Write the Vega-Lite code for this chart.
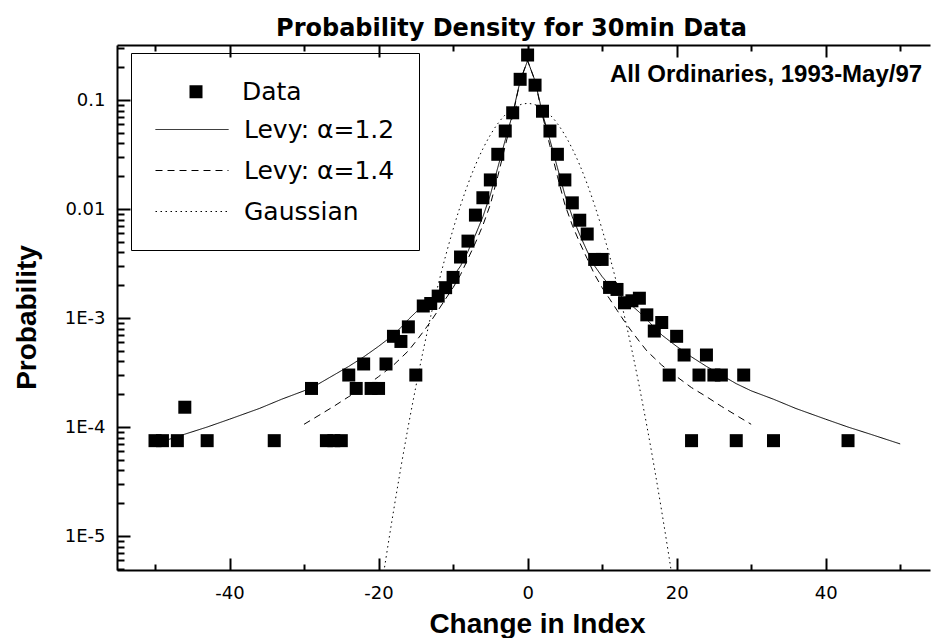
{
  "$schema": "https://vega.github.io/schema/vega-lite/v6.json",
  "width": 813,
  "height": 525,
  "autosize": {"type": "none"},
  "padding": {"left": 117, "top": 45, "right": 2, "bottom": 68},
  "background": "white",
  "view": {"stroke": null},
  "config": {"font": "DejaVu Sans"},
  "title": {
    "text": "Probability Density for 30min Data",
    "font": "DejaVu Sans",
    "fontSize": 24,
    "fontWeight": "bold",
    "color": "black",
    "anchor": "middle",
    "frame": "group",
    "offset": 12,
    "baseline": "alphabetic",
    "dx": -12,
    "dy": 28
  },
  "datasets": {
    "pts": [
      {"x": -50, "p": 7.5e-5}, {"x": -49, "p": 7.5e-5}, {"x": -47, "p": 7.5e-5}, {"x": -46, "p": 1.52e-4},
      {"x": -43, "p": 7.5e-5}, {"x": -34, "p": 7.5e-5}, {"x": -29, "p": 2.26e-4}, {"x": -27, "p": 7.5e-5},
      {"x": -26, "p": 7.5e-5}, {"x": -25, "p": 7.5e-5}, {"x": -24, "p": 3.0e-4}, {"x": -23, "p": 2.26e-4},
      {"x": -22, "p": 3.79e-4}, {"x": -21, "p": 2.26e-4}, {"x": -20, "p": 2.26e-4}, {"x": -19, "p": 3.79e-4},
      {"x": -18, "p": 6.8e-4}, {"x": -17, "p": 6.1e-4}, {"x": -16, "p": 8.3e-4}, {"x": -15, "p": 3.0e-4},
      {"x": -14, "p": 1.29e-3}, {"x": -13, "p": 1.36e-3}, {"x": -12, "p": 1.59e-3}, {"x": -11, "p": 1.9e-3},
      {"x": -10, "p": 2.36e-3}, {"x": -9, "p": 3.63e-3}, {"x": -8, "p": 5.08e-3}, {"x": -7, "p": 8.8e-3},
      {"x": -6, "p": 1.27e-2}, {"x": -5, "p": 1.85e-2}, {"x": -4, "p": 3.18e-2}, {"x": -3, "p": 5.2e-2},
      {"x": -2, "p": 7.64e-2}, {"x": -1, "p": 0.155}, {"x": 0, "p": 0.259}, {"x": 1, "p": 0.137},
      {"x": 2, "p": 0.079}, {"x": 3, "p": 0.052}, {"x": 4, "p": 0.0318}, {"x": 5, "p": 0.0185},
      {"x": 6, "p": 0.0114}, {"x": 7, "p": 0.0079}, {"x": 8, "p": 0.0059}, {"x": 9, "p": 0.00345},
      {"x": 10, "p": 0.00345}, {"x": 11, "p": 0.00191}, {"x": 12, "p": 0.00183}, {"x": 13, "p": 0.00138},
      {"x": 14, "p": 0.00144}, {"x": 15, "p": 0.00152}, {"x": 16, "p": 0.00107}, {"x": 17, "p": 0.00076},
      {"x": 18, "p": 0.00091}, {"x": 19, "p": 0.0003}, {"x": 20, "p": 0.00068}, {"x": 21, "p": 0.000458},
      {"x": 22, "p": 7.5e-5}, {"x": 23, "p": 0.0003}, {"x": 24, "p": 0.000458}, {"x": 25, "p": 0.0003},
      {"x": 26, "p": 0.0003}, {"x": 28, "p": 7.5e-5}, {"x": 29, "p": 0.0003}, {"x": 33, "p": 7.5e-5},
      {"x": 43, "p": 7.5e-5}
    ],
    "levy12": [
      {"series": "Levy: α=1.2", "x": -50, "p": 7.0e-5}, {"series": "Levy: α=1.2", "x": -46, "p": 8.6e-5},
      {"series": "Levy: α=1.2", "x": -43, "p": 1.0e-4}, {"series": "Levy: α=1.2", "x": -40, "p": 1.18e-4},
      {"series": "Levy: α=1.2", "x": -36, "p": 1.48e-4}, {"series": "Levy: α=1.2", "x": -33, "p": 1.8e-4},
      {"series": "Levy: α=1.2", "x": -30, "p": 2.15e-4}, {"series": "Levy: α=1.2", "x": -28, "p": 2.5e-4},
      {"series": "Levy: α=1.2", "x": -26, "p": 3.0e-4}, {"series": "Levy: α=1.2", "x": -24, "p": 3.6e-4},
      {"series": "Levy: α=1.2", "x": -22, "p": 4.4e-4}, {"series": "Levy: α=1.2", "x": -20, "p": 5.5e-4},
      {"series": "Levy: α=1.2", "x": -18, "p": 7.0e-4}, {"series": "Levy: α=1.2", "x": -17, "p": 8.2e-4},
      {"series": "Levy: α=1.2", "x": -16, "p": 9.7e-4}, {"series": "Levy: α=1.2", "x": -15, "p": 1.13e-3},
      {"series": "Levy: α=1.2", "x": -14, "p": 1.3e-3}, {"series": "Levy: α=1.2", "x": -13, "p": 1.49e-3},
      {"series": "Levy: α=1.2", "x": -12, "p": 1.72e-3}, {"series": "Levy: α=1.2", "x": -11, "p": 2.0e-3},
      {"series": "Levy: α=1.2", "x": -10, "p": 2.4e-3}, {"series": "Levy: α=1.2", "x": -9, "p": 3.0e-3},
      {"series": "Levy: α=1.2", "x": -8, "p": 4.1e-3}, {"series": "Levy: α=1.2", "x": -7, "p": 5.8e-3},
      {"series": "Levy: α=1.2", "x": -6, "p": 8.5e-3}, {"series": "Levy: α=1.2", "x": -5, "p": 0.0135},
      {"series": "Levy: α=1.2", "x": -4, "p": 0.024}, {"series": "Levy: α=1.2", "x": -3, "p": 0.043},
      {"series": "Levy: α=1.2", "x": -2, "p": 0.075}, {"series": "Levy: α=1.2", "x": -1, "p": 0.15},
      {"series": "Levy: α=1.2", "x": 0, "p": 0.23},
      {"series": "Levy: α=1.2", "x": 1, "p": 0.15}, {"series": "Levy: α=1.2", "x": 2, "p": 0.075},
      {"series": "Levy: α=1.2", "x": 3, "p": 0.043}, {"series": "Levy: α=1.2", "x": 4, "p": 0.024},
      {"series": "Levy: α=1.2", "x": 5, "p": 0.0135}, {"series": "Levy: α=1.2", "x": 6, "p": 8.5e-3},
      {"series": "Levy: α=1.2", "x": 7, "p": 5.8e-3}, {"series": "Levy: α=1.2", "x": 8, "p": 4.1e-3},
      {"series": "Levy: α=1.2", "x": 9, "p": 3.0e-3}, {"series": "Levy: α=1.2", "x": 10, "p": 2.4e-3},
      {"series": "Levy: α=1.2", "x": 11, "p": 2.0e-3}, {"series": "Levy: α=1.2", "x": 12, "p": 1.72e-3},
      {"series": "Levy: α=1.2", "x": 13, "p": 1.49e-3}, {"series": "Levy: α=1.2", "x": 14, "p": 1.3e-3},
      {"series": "Levy: α=1.2", "x": 15, "p": 1.13e-3}, {"series": "Levy: α=1.2", "x": 16, "p": 9.7e-4},
      {"series": "Levy: α=1.2", "x": 17, "p": 8.2e-4}, {"series": "Levy: α=1.2", "x": 18, "p": 7.0e-4},
      {"series": "Levy: α=1.2", "x": 20, "p": 5.5e-4}, {"series": "Levy: α=1.2", "x": 22, "p": 4.4e-4},
      {"series": "Levy: α=1.2", "x": 24, "p": 3.6e-4}, {"series": "Levy: α=1.2", "x": 26, "p": 3.0e-4},
      {"series": "Levy: α=1.2", "x": 28, "p": 2.5e-4}, {"series": "Levy: α=1.2", "x": 30, "p": 2.15e-4},
      {"series": "Levy: α=1.2", "x": 33, "p": 1.8e-4}, {"series": "Levy: α=1.2", "x": 36, "p": 1.48e-4},
      {"series": "Levy: α=1.2", "x": 40, "p": 1.18e-4}, {"series": "Levy: α=1.2", "x": 43, "p": 1.0e-4},
      {"series": "Levy: α=1.2", "x": 46, "p": 8.6e-5}, {"series": "Levy: α=1.2", "x": 50, "p": 7.0e-5}
    ],
    "levy14": [
      {"series": "Levy: α=1.4", "x": -30, "p": 1.06e-4}, {"series": "Levy: α=1.4", "x": -28, "p": 1.28e-4},
      {"series": "Levy: α=1.4", "x": -26, "p": 1.55e-4}, {"series": "Levy: α=1.4", "x": -24, "p": 1.9e-4},
      {"series": "Levy: α=1.4", "x": -22, "p": 2.3e-4}, {"series": "Levy: α=1.4", "x": -20, "p": 2.9e-4},
      {"series": "Levy: α=1.4", "x": -18, "p": 3.7e-4}, {"series": "Levy: α=1.4", "x": -17, "p": 4.3e-4},
      {"series": "Levy: α=1.4", "x": -16, "p": 5.0e-4}, {"series": "Levy: α=1.4", "x": -15, "p": 6.1e-4},
      {"series": "Levy: α=1.4", "x": -14, "p": 7.5e-4}, {"series": "Levy: α=1.4", "x": -13, "p": 9.3e-4},
      {"series": "Levy: α=1.4", "x": -12, "p": 1.18e-3}, {"series": "Levy: α=1.4", "x": -11, "p": 1.5e-3},
      {"series": "Levy: α=1.4", "x": -10, "p": 1.9e-3}, {"series": "Levy: α=1.4", "x": -9, "p": 2.5e-3},
      {"series": "Levy: α=1.4", "x": -8, "p": 3.5e-3}, {"series": "Levy: α=1.4", "x": -7, "p": 4.9e-3},
      {"series": "Levy: α=1.4", "x": -6, "p": 7.1e-3}, {"series": "Levy: α=1.4", "x": -5, "p": 0.011},
      {"series": "Levy: α=1.4", "x": -4, "p": 0.02}, {"series": "Levy: α=1.4", "x": -3, "p": 0.038},
      {"series": "Levy: α=1.4", "x": -2, "p": 0.072}, {"series": "Levy: α=1.4", "x": -1, "p": 0.15},
      {"series": "Levy: α=1.4", "x": 0, "p": 0.23},
      {"series": "Levy: α=1.4", "x": 1, "p": 0.15}, {"series": "Levy: α=1.4", "x": 2, "p": 0.072},
      {"series": "Levy: α=1.4", "x": 3, "p": 0.038}, {"series": "Levy: α=1.4", "x": 4, "p": 0.02},
      {"series": "Levy: α=1.4", "x": 5, "p": 0.011}, {"series": "Levy: α=1.4", "x": 6, "p": 7.1e-3},
      {"series": "Levy: α=1.4", "x": 7, "p": 4.9e-3}, {"series": "Levy: α=1.4", "x": 8, "p": 3.5e-3},
      {"series": "Levy: α=1.4", "x": 9, "p": 2.5e-3}, {"series": "Levy: α=1.4", "x": 10, "p": 1.9e-3},
      {"series": "Levy: α=1.4", "x": 11, "p": 1.5e-3}, {"series": "Levy: α=1.4", "x": 12, "p": 1.18e-3},
      {"series": "Levy: α=1.4", "x": 13, "p": 9.3e-4}, {"series": "Levy: α=1.4", "x": 14, "p": 7.5e-4},
      {"series": "Levy: α=1.4", "x": 15, "p": 6.1e-4}, {"series": "Levy: α=1.4", "x": 16, "p": 5.0e-4},
      {"series": "Levy: α=1.4", "x": 17, "p": 4.3e-4}, {"series": "Levy: α=1.4", "x": 18, "p": 3.7e-4},
      {"series": "Levy: α=1.4", "x": 20, "p": 2.9e-4}, {"series": "Levy: α=1.4", "x": 22, "p": 2.3e-4},
      {"series": "Levy: α=1.4", "x": 24, "p": 1.9e-4}, {"series": "Levy: α=1.4", "x": 26, "p": 1.55e-4},
      {"series": "Levy: α=1.4", "x": 28, "p": 1.28e-4}, {"series": "Levy: α=1.4", "x": 30, "p": 1.06e-4}
    ],
    "gauss": [
      {"series": "Gaussian", "x": -20, "p": 2.23e-6}, {"series": "Gaussian", "x": -19, "p": 6.3e-6},
      {"series": "Gaussian", "x": -18, "p": 1.683e-5}, {"series": "Gaussian", "x": -17, "p": 4.27e-5},
      {"series": "Gaussian", "x": -16, "p": 1.027e-4}, {"series": "Gaussian", "x": -15, "p": 2.34e-4},
      {"series": "Gaussian", "x": -14, "p": 5.06e-4}, {"series": "Gaussian", "x": -13, "p": 1.038e-3},
      {"series": "Gaussian", "x": -12, "p": 2.02e-3}, {"series": "Gaussian", "x": -11, "p": 3.72e-3},
      {"series": "Gaussian", "x": -10, "p": 6.51e-3}, {"series": "Gaussian", "x": -9, "p": 0.01079},
      {"series": "Gaussian", "x": -8, "p": 0.01696}, {"series": "Gaussian", "x": -7, "p": 0.0253},
      {"series": "Gaussian", "x": -6, "p": 0.0357}, {"series": "Gaussian", "x": -5, "p": 0.0478},
      {"series": "Gaussian", "x": -4, "p": 0.0608}, {"series": "Gaussian", "x": -3, "p": 0.0732},
      {"series": "Gaussian", "x": -2, "p": 0.0836}, {"series": "Gaussian", "x": -1, "p": 0.0906},
      {"series": "Gaussian", "x": 0, "p": 0.093},
      {"series": "Gaussian", "x": 1, "p": 0.0906}, {"series": "Gaussian", "x": 2, "p": 0.0836},
      {"series": "Gaussian", "x": 3, "p": 0.0732}, {"series": "Gaussian", "x": 4, "p": 0.0608},
      {"series": "Gaussian", "x": 5, "p": 0.0478}, {"series": "Gaussian", "x": 6, "p": 0.0357},
      {"series": "Gaussian", "x": 7, "p": 0.0253}, {"series": "Gaussian", "x": 8, "p": 0.01696},
      {"series": "Gaussian", "x": 9, "p": 0.01079}, {"series": "Gaussian", "x": 10, "p": 6.51e-3},
      {"series": "Gaussian", "x": 11, "p": 3.72e-3}, {"series": "Gaussian", "x": 12, "p": 2.02e-3},
      {"series": "Gaussian", "x": 13, "p": 1.038e-3}, {"series": "Gaussian", "x": 14, "p": 5.06e-4},
      {"series": "Gaussian", "x": 15, "p": 2.34e-4}, {"series": "Gaussian", "x": 16, "p": 1.027e-4},
      {"series": "Gaussian", "x": 17, "p": 4.27e-5}, {"series": "Gaussian", "x": 18, "p": 1.683e-5},
      {"series": "Gaussian", "x": 19, "p": 6.3e-6}, {"series": "Gaussian", "x": 20, "p": 2.23e-6}
    ]
  },
  "resolve": {"axis": {"x": "independent", "y": "independent"}},
  "layer": [
    {
      "data": {"name": "gauss"},
      "mark": {"type": "line", "interpolate": "monotone", "clip": true, "color": "black", "strokeWidth": 1},
      "encoding": {
        "x": {
          "field": "x", "type": "quantitative", "scale": {"domain": [-55.1, 54.0], "nice": false, "zero": false},
          "axis": {"orient": "top", "title": null, "labels": false, "grid": false, "values": [-50, -30, -10, 10, 30, 50],
                   "tickSize": -6, "tickWidth": 2, "tickColor": "black", "domain": true, "domainWidth": 2, "domainColor": "black"}
        },
        "y": {"field": "p", "type": "quantitative", "scale": {"type": "log", "domain": [4.88e-6, 0.32], "nice": false}, "axis": null},
        "strokeDash": {
          "field": "series", "type": "nominal",
          "scale": {"domain": ["Levy: α=1.2", "Levy: α=1.4", "Gaussian"], "range": [[1, 0], [7, 5], [1.5, 3.5]]},
          "legend": {
            "orient": "none", "legendX": 14, "legendY": 8,
            "title": "Data", "titleColor": "transparent", "titleFont": "DejaVu Sans", "titleFontSize": 25, "titlePadding": 13,
            "symbolType": "stroke", "symbolSize": 5329, "symbolStrokeWidth": 1, "symbolStrokeColor": "black", "clipHeight": 29,
            "labelFont": "DejaVu Sans", "labelFontSize": 25, "labelColor": "black", "labelOffset": 15, "labelLimit": 400,
            "rowPadding": 12, "padding": 24, "strokeColor": "black"
          }
        }
      }
    },
    {
      "data": {"name": "levy14"},
      "mark": {"type": "line", "clip": true, "color": "black", "strokeWidth": 1},
      "encoding": {
        "x": {
          "field": "x", "type": "quantitative", "scale": {"domain": [-55.1, 54.0], "nice": false, "zero": false},
          "axis": {"orient": "top", "title": null, "labels": false, "grid": false, "values": [-40, -20, 0, 20, 40],
                   "tickSize": -12, "tickWidth": 2, "tickColor": "black", "domain": false}
        },
        "y": {
          "field": "p", "type": "quantitative", "scale": {"type": "log", "domain": [4.88e-6, 0.32], "nice": false},
          "axis": {"orient": "left", "title": null, "labels": false, "grid": false, "domain": false,
                   "values": [1e-5, 1e-4, 0.001, 0.01, 0.1],
                   "tickSize": -13, "tickWidth": 2, "tickColor": "black"}
        },
        "strokeDash": {
          "field": "series", "type": "nominal",
          "scale": {"domain": ["Levy: α=1.2", "Levy: α=1.4", "Gaussian"], "range": [[1, 0], [7, 5], [1.5, 3.5]]},
          "legend": {
            "orient": "none", "legendX": 14, "legendY": 8,
            "title": "Data", "titleColor": "transparent", "titleFont": "DejaVu Sans", "titleFontSize": 25, "titlePadding": 13,
            "symbolType": "stroke", "symbolSize": 5329, "symbolStrokeWidth": 1, "symbolStrokeColor": "black", "clipHeight": 29,
            "labelFont": "DejaVu Sans", "labelFontSize": 25, "labelColor": "black", "labelOffset": 15, "labelLimit": 400,
            "rowPadding": 12, "padding": 24, "strokeColor": "black"
          }
        }
      }
    },
    {
      "data": {"name": "levy12"},
      "mark": {"type": "line", "clip": true, "color": "black", "strokeWidth": 1},
      "encoding": {
        "x": {
          "field": "x", "type": "quantitative", "scale": {"domain": [-55.1, 54.0], "nice": false, "zero": false},
          "axis": {"orient": "bottom", "title": null, "labels": false, "grid": false, "values": [-50, -30, -10, 10, 30, 50],
                   "tickSize": -6, "tickWidth": 2, "tickColor": "black", "domain": false}
        },
        "y": {
          "field": "p", "type": "quantitative", "scale": {"type": "log", "domain": [4.88e-6, 0.32], "nice": false},
          "axis": {"orient": "left", "title": null, "labels": false, "grid": false, "domain": false,
                   "values": [5e-6, 6e-6, 7e-6, 8e-6, 9e-6, 2e-5, 3e-5, 4e-5, 5e-5, 6e-5, 7e-5, 8e-5, 9e-5,
                              2e-4, 3e-4, 4e-4, 5e-4, 6e-4, 7e-4, 8e-4, 9e-4,
                              0.002, 0.003, 0.004, 0.005, 0.006, 0.007, 0.008, 0.009,
                              0.02, 0.03, 0.04, 0.05, 0.06, 0.07, 0.08, 0.09, 0.2, 0.3],
                   "tickSize": -7, "tickWidth": 2, "tickColor": "black"}
        },
        "strokeDash": {
          "field": "series", "type": "nominal",
          "scale": {"domain": ["Levy: α=1.2", "Levy: α=1.4", "Gaussian"], "range": [[1, 0], [7, 5], [1.5, 3.5]]},
          "legend": {
            "orient": "none", "legendX": 14, "legendY": 8,
            "title": "Data", "titleColor": "transparent", "titleFont": "DejaVu Sans", "titleFontSize": 25, "titlePadding": 13,
            "symbolType": "stroke", "symbolSize": 5329, "symbolStrokeWidth": 1, "symbolStrokeColor": "black", "clipHeight": 29,
            "labelFont": "DejaVu Sans", "labelFontSize": 25, "labelColor": "black", "labelOffset": 15, "labelLimit": 400,
            "rowPadding": 12, "padding": 24, "strokeColor": "black"
          }
        }
      }
    },
    {
      "data": {"name": "pts"},
      "mark": {"type": "point", "filled": true, "size": 169, "color": "black", "opacity": 1, "strokeWidth": 0, "clip": true},
      "encoding": {
        "x": {
          "field": "x", "type": "quantitative", "scale": {"domain": [-55.1, 54.0], "nice": false, "zero": false},
          "axis": {
            "orient": "bottom", "title": "Change in Index",
            "values": [-40, -20, 0, 20, 40],
            "ticks": false, "tickSize": 0, "domain": true, "domainWidth": 2, "domainColor": "black", "grid": false,
            "labelExpr": "'' + datum.value",
            "labelFont": "DejaVu Sans", "labelFontSize": 18, "labelColor": "black", "labelPadding": 14,
            "labelBaseline": "top", "labelOverlap": false, "labelFlush": false,
            "titleFont": "Liberation Sans", "titleFontSize": 28, "titleFontWeight": "bold", "titleColor": "black",
            "titleX": 420, "titleY": 62, "titleAlign": "center", "titleBaseline": "alphabetic"
          }
        },
        "y": {
          "field": "p", "type": "quantitative", "scale": {"type": "log", "domain": [4.88e-6, 0.32], "nice": false},
          "axis": {
            "orient": "left", "title": "Probability",
            "values": [1e-5, 1e-4, 0.001, 0.01, 0.1],
            "ticks": false, "tickSize": 0, "domain": true, "domainWidth": 2, "domainColor": "black", "grid": false,
            "labelExpr": "datum.value > 0.05 ? '0.1' : datum.value > 0.005 ? '0.01' : datum.value > 0.0005 ? '1E-3' : datum.value > 0.00005 ? '1E-4' : '1E-5'",
            "labelFont": "DejaVu Sans", "labelFontSize": 18, "labelColor": "black", "labelPadding": 12,
            "labelOverlap": false, "labelFlush": false,
            "titleFont": "Liberation Sans", "titleFontSize": 28, "titleFontWeight": "bold", "titleColor": "black",
            "titleAngle": -90, "titleX": -82, "titleY": 272, "titleAlign": "center", "titleBaseline": "alphabetic"
          }
        },
        "shape": {
          "datum": "Data", "type": "nominal",
          "scale": {"domain": ["Data"], "range": ["square"]},
          "legend": {
            "orient": "none", "legendX": 66.5, "legendY": 34.2, "title": null,
            "symbolSize": 169, "symbolFillColor": "black", "symbolStrokeWidth": 0, "clipHeight": 25,
            "labelFont": "DejaVu Sans", "labelFontSize": 25, "labelColor": "black", "labelOffset": 33.5, "labelLimit": 400,
            "padding": 0
          }
        }
      }
    },
    {
      "data": {"values": [{}]},
      "mark": {"type": "text", "text": "All Ordinaries, 1993-May/97", "align": "right", "baseline": "alphabetic",
               "font": "Liberation Sans", "fontSize": 24, "fontWeight": "bold", "color": "black"},
      "encoding": {
        "x": {
          "datum": 52.95, "type": "quantitative", "scale": {"domain": [-55.1, 54.0], "nice": false, "zero": false},
          "axis": {"orient": "bottom", "title": null, "labels": false, "grid": false, "domain": false,
                   "values": [-40, -20, 0, 20, 40], "tickSize": -12, "tickWidth": 2, "tickColor": "black"}
        },
        "y": {"datum": 0.1474, "type": "quantitative", "scale": {"type": "log", "domain": [4.88e-6, 0.32], "nice": false}, "axis": null}
      }
    }
  ]
}
